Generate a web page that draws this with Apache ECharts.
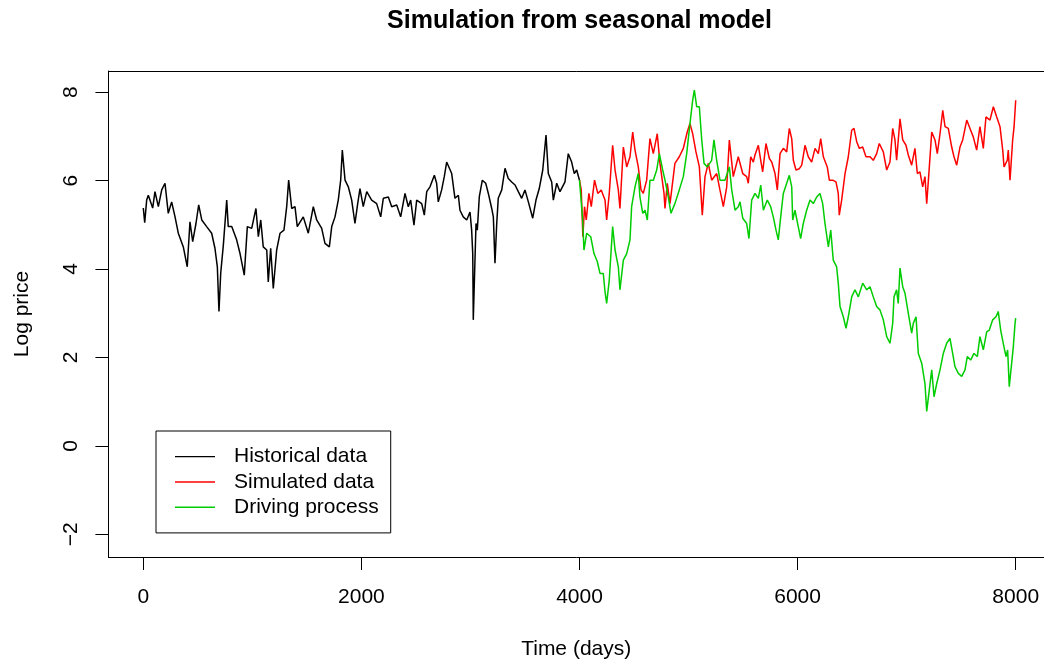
<!DOCTYPE html>
<html>
<head>
<meta charset="utf-8">
<script src="https://cdn.jsdelivr.net/npm/echarts@6/dist/echarts.min.js"></script>
<style>
  html, body { margin: 0; padding: 0; background: #fff; }
  #chart { width: 1044px; height: 665px; }
</style>
</head>
<body>
<div id="chart"></div>
<script>
// ---- Data ----
const titleText = 'Simulation from seasonal model';
const xTitle = 'Time (days)';
const yTitle = 'Log price';
const xTicks = [0, 2000, 4000, 6000, 8000];
const yTicks = [-2, 0, 2, 4, 6, 8];
const seriesNames = ['Historical data', 'Simulated data', 'Driving process'];

const histDays = [0,13,31,46,86,107,138,169,199,229,260,291,321,367,403,428,453,483,508,536,581,627,657,679,694,710,734,765,779,811,856,887,926,954,994,1033,1055,1077,1100,1132,1146,1168,1192,1223,1254,1290,1315,1333,1361,1391,1412,1467,1513,1559,1590,1636,1666,1706,1728,1758,1788,1810,1825,1850,1880,1911,1941,1966,1987,2017,2049,2094,2140,2177,2201,2247,2278,2324,2360,2400,2430,2452,2482,2507,2553,2577,2599,2629,2669,2690,2705,2736,2760,2782,2828,2858,2889,2904,2934,2966,2996,3011,3021,3026,3042,3051,3063,3081,3109,3140,3164,3195,3210,3225,3241,3255,3287,3317,3347,3378,3409,3439,3470,3500,3531,3571,3601,3631,3663,3693,3714,3745,3760,3791,3821,3867,3897,3928,3952,3974,4000];
const histVals = [5.38,5.05,5.56,5.67,5.38,5.75,5.41,5.79,5.94,5.26,5.52,5.18,4.81,4.50,4.05,5.07,4.62,5.03,5.45,5.11,4.96,4.81,4.47,4.05,3.04,3.91,4.54,5.56,4.96,4.96,4.66,4.35,3.86,4.96,4.92,5.37,4.73,5.11,4.50,4.43,3.71,4.47,3.56,4.43,4.81,4.88,5.41,6.01,5.37,5.41,4.96,5.18,4.81,5.41,5.11,4.92,4.58,4.50,4.96,5.18,5.56,6.01,6.69,6.01,5.86,5.56,5.03,5.48,5.82,5.41,5.75,5.56,5.48,5.18,5.60,5.63,5.41,5.45,5.18,5.71,5.41,5.56,4.99,5.56,5.48,5.22,5.75,5.86,6.12,5.94,5.52,5.79,6.09,6.42,6.16,5.60,5.67,5.33,5.18,5.11,5.29,4.88,4.35,2.85,2.85,5.03,4.88,5.63,6.01,5.94,5.71,5.37,5.18,4.13,5.03,5.60,5.79,6.28,6.05,5.97,5.90,5.75,5.60,5.79,5.52,5.15,5.56,5.82,6.24,7.03,6.16,5.97,5.56,5.94,5.75,5.97,6.61,6.42,6.16,6.24,6.01];

const simDays = [4000,4016,4031,4046,4062,4086,4108,4138,4168,4199,4234,4249,4273,4304,4326,4356,4371,4402,4433,4463,4488,4509,4539,4564,4585,4616,4646,4677,4713,4738,4775,4784,4805,4830,4875,4915,4952,4988,5013,5038,5068,5099,5126,5151,5181,5212,5258,5288,5319,5350,5374,5410,5456,5497,5533,5548,5570,5594,5609,5640,5662,5680,5710,5741,5763,5793,5814,5839,5869,5900,5924,5946,5961,5985,6016,6038,6068,6098,6129,6160,6190,6212,6236,6272,6291,6322,6352,6373,6382,6404,6435,6465,6496,6517,6542,6566,6597,6627,6664,6694,6725,6749,6786,6817,6847,6872,6893,6908,6939,6964,6994,7015,7046,7076,7098,7122,7147,7168,7184,7208,7230,7260,7281,7306,7331,7352,7382,7413,7434,7459,7489,7514,7551,7587,7611,7642,7672,7703,7727,7764,7795,7826,7856,7881,7893,7923,7932,7948,7972,7985,8000];
const simVals = [6.01,5.79,4.73,5.41,5.11,5.71,5.41,6.01,5.71,5.79,5.56,5.11,5.71,6.80,6.24,5.79,5.37,6.76,6.31,6.54,7.10,6.69,6.31,5.79,5.71,6.01,6.95,6.61,7.06,6.39,5.71,5.37,5.94,5.48,6.39,6.54,6.73,7.10,7.29,7.06,6.65,6.31,5.22,6.09,6.39,6.01,6.16,5.79,5.41,5.86,6.92,6.09,6.54,6.16,6.09,5.94,6.54,6.42,6.58,6.80,6.46,6.20,6.84,6.50,6.42,6.16,5.79,6.61,6.73,6.65,7.18,6.95,6.46,6.24,6.27,6.35,6.80,6.54,6.42,6.73,6.61,6.95,6.54,6.31,6.01,6.01,5.97,5.71,5.22,5.56,6.16,6.54,7.14,7.18,6.88,6.73,6.76,6.54,6.54,6.46,6.61,6.84,6.65,6.24,6.42,7.18,6.92,6.46,7.40,6.92,6.80,6.58,6.35,6.73,6.16,6.20,5.86,6.09,5.48,6.31,7.10,6.92,6.61,7.06,7.59,7.22,7.18,6.76,6.54,6.35,6.76,6.92,7.37,7.14,6.99,6.69,7.22,6.73,7.44,7.37,7.67,7.44,7.22,6.69,6.31,6.46,6.69,6.01,6.92,7.22,7.82];

const drvDays = [4000,4029,4041,4066,4103,4133,4163,4188,4218,4234,4249,4273,4304,4326,4356,4371,4402,4433,4463,4478,4509,4539,4554,4580,4601,4622,4646,4677,4708,4732,4763,4784,4814,4839,4875,4915,4952,4983,5013,5038,5053,5075,5099,5121,5142,5172,5212,5233,5258,5288,5334,5374,5396,5426,5456,5472,5497,5533,5554,5579,5609,5640,5662,5686,5722,5753,5777,5802,5823,5845,5869,5900,5924,5946,5955,5976,6006,6028,6052,6083,6114,6144,6175,6205,6230,6251,6282,6304,6327,6358,6373,6389,6419,6444,6465,6496,6526,6557,6597,6634,6664,6694,6725,6756,6786,6817,6847,6872,6884,6908,6923,6939,6964,6985,7015,7046,7061,7086,7107,7138,7168,7184,7208,7230,7251,7276,7306,7336,7367,7397,7422,7443,7474,7505,7535,7556,7587,7617,7648,7672,7703,7734,7758,7789,7819,7840,7862,7886,7911,7926,7941,7963,7978,7994,8000];
const drvVals = [6.01,5.11,4.43,4.81,4.73,4.35,4.17,3.90,3.90,3.49,3.22,3.75,4.96,4.43,4.05,3.53,4.20,4.35,4.66,5.41,5.86,6.16,5.63,5.26,5.33,5.11,6.01,6.01,6.24,6.61,6.24,6.01,5.63,5.26,5.48,5.79,6.09,6.61,7.29,7.82,8.05,7.67,7.67,6.92,6.39,6.31,6.46,6.92,6.46,6.01,6.01,6.31,5.79,5.33,5.41,5.52,5.15,5.03,4.69,5.56,5.71,5.60,5.90,5.33,5.56,5.41,5.18,4.88,4.66,5.18,5.71,5.94,6.12,5.86,5.11,5.33,4.96,4.69,5.03,5.33,5.56,5.48,5.63,5.71,5.48,5.03,4.50,4.88,4.20,4.05,3.68,3.15,2.92,2.66,2.92,3.37,3.53,3.37,3.68,3.53,3.60,3.37,3.15,3.07,2.85,2.47,2.32,2.77,3.37,3.53,3.22,4.02,3.60,3.45,3.00,2.55,2.77,2.92,2.09,1.87,1.41,0.78,1.27,1.72,1.11,1.41,1.72,2.09,2.32,2.43,2.09,1.79,1.64,1.57,1.72,2.02,1.94,2.09,2.02,2.47,2.17,2.58,2.62,2.85,2.92,3.04,2.62,2.32,2.02,2.17,1.34,1.87,2.24,2.77,2.89];

// ---- Build chart ----
const zip = (xs, ys) => xs.map((x, i) => [x, ys[i]]);
const FONT = "'Liberation Sans', Arial, Helvetica, sans-serif";
const fmt = v => (v < 0 ? '\u2212' + Math.abs(v) : String(v));
const X_MIN = -320, X_MAX = 8259.5;   // plot region continues past the right edge of the picture
const Y_MIN = -2.515, Y_MAX = 8.48;
const lineAxis = { show: true, onZero: false, lineStyle: { color: '#000', width: 1 } };

const chart = echarts.init(document.getElementById('chart'), null, { renderer: 'canvas' });
chart.setOption({
  animation: false,
  backgroundColor: '#ffffff',
  title: {
    text: titleText,
    left: 579.5,
    top: 9,
    padding: 0,
    textAlign: 'center',
    textStyle: { fontFamily: FONT, fontSize: 25, fontWeight: 'bold', color: '#000' }
  },
  grid: { left: 108.4, top: 71, right: 0, bottom: 107.7, show: false },
  legend: {
    data: seriesNames,
    orient: 'vertical',
    left: 156, top: 431,
    padding: [13, 12, 13, 19],
    itemGap: 0,
    itemWidth: 40, itemHeight: 1.4,
    icon: 'rect',
    borderColor: '#000', borderWidth: 1,
    backgroundColor: '#fff',
    selectedMode: false,
    textStyle: { fontFamily: FONT, fontSize: 21, color: '#000', lineHeight: 25.3, padding: [0, 0, 0, 14] }
  },
  xAxis: [{
    type: 'value', position: 'bottom',
    min: X_MIN, max: X_MAX,
    name: xTitle,
    nameLocation: 'middle',
    nameGap: 82,
    nameTextStyle: { fontFamily: FONT, fontSize: 21, color: '#000' },
    axisLine: lineAxis,
    splitLine: { show: false },
    axisTick: { show: true, customValues: xTicks, length: 13, inside: false, lineStyle: { color: '#000', width: 1 } },
    axisLabel: { customValues: xTicks, margin: 30, fontFamily: FONT, fontSize: 21, color: '#000', formatter: fmt }
  }, {
    type: 'value', position: 'top',
    min: X_MIN, max: X_MAX,
    axisLine: lineAxis,
    splitLine: { show: false },
    axisTick: { show: false },
    axisLabel: { show: false }
  }],
  yAxis: {
    type: 'value', position: 'left',
    min: Y_MIN, max: Y_MAX,
    name: yTitle,
    nameLocation: 'middle',
    nameGap: 76,
    nameRotate: 90,
    nameTextStyle: { fontFamily: FONT, fontSize: 21, color: '#000' },
    axisLine: lineAxis,
    splitLine: { show: false },
    axisTick: { show: true, customValues: yTicks, length: 13, inside: false, lineStyle: { color: '#000', width: 1 } },
    axisLabel: { customValues: yTicks, margin: 27, rotate: 90, fontFamily: FONT, fontSize: 21, color: '#000', formatter: fmt }
  },
  series: [
    { name: seriesNames[0], type: 'line', data: zip(histDays, histVals), showSymbol: false, symbol: 'none',
      itemStyle: { color: '#000000' }, lineStyle: { color: '#000000', width: 1.5 } },
    { name: seriesNames[1], type: 'line', data: zip(simDays, simVals), showSymbol: false, symbol: 'none',
      itemStyle: { color: '#ff0000' }, lineStyle: { color: '#ff0000', width: 1.5 } },
    { name: seriesNames[2], type: 'line', data: zip(drvDays, drvVals), showSymbol: false, symbol: 'none',
      itemStyle: { color: '#00cd00' }, lineStyle: { color: '#00cd00', width: 1.5 } }
  ]
});
</script>
</body>
</html>
